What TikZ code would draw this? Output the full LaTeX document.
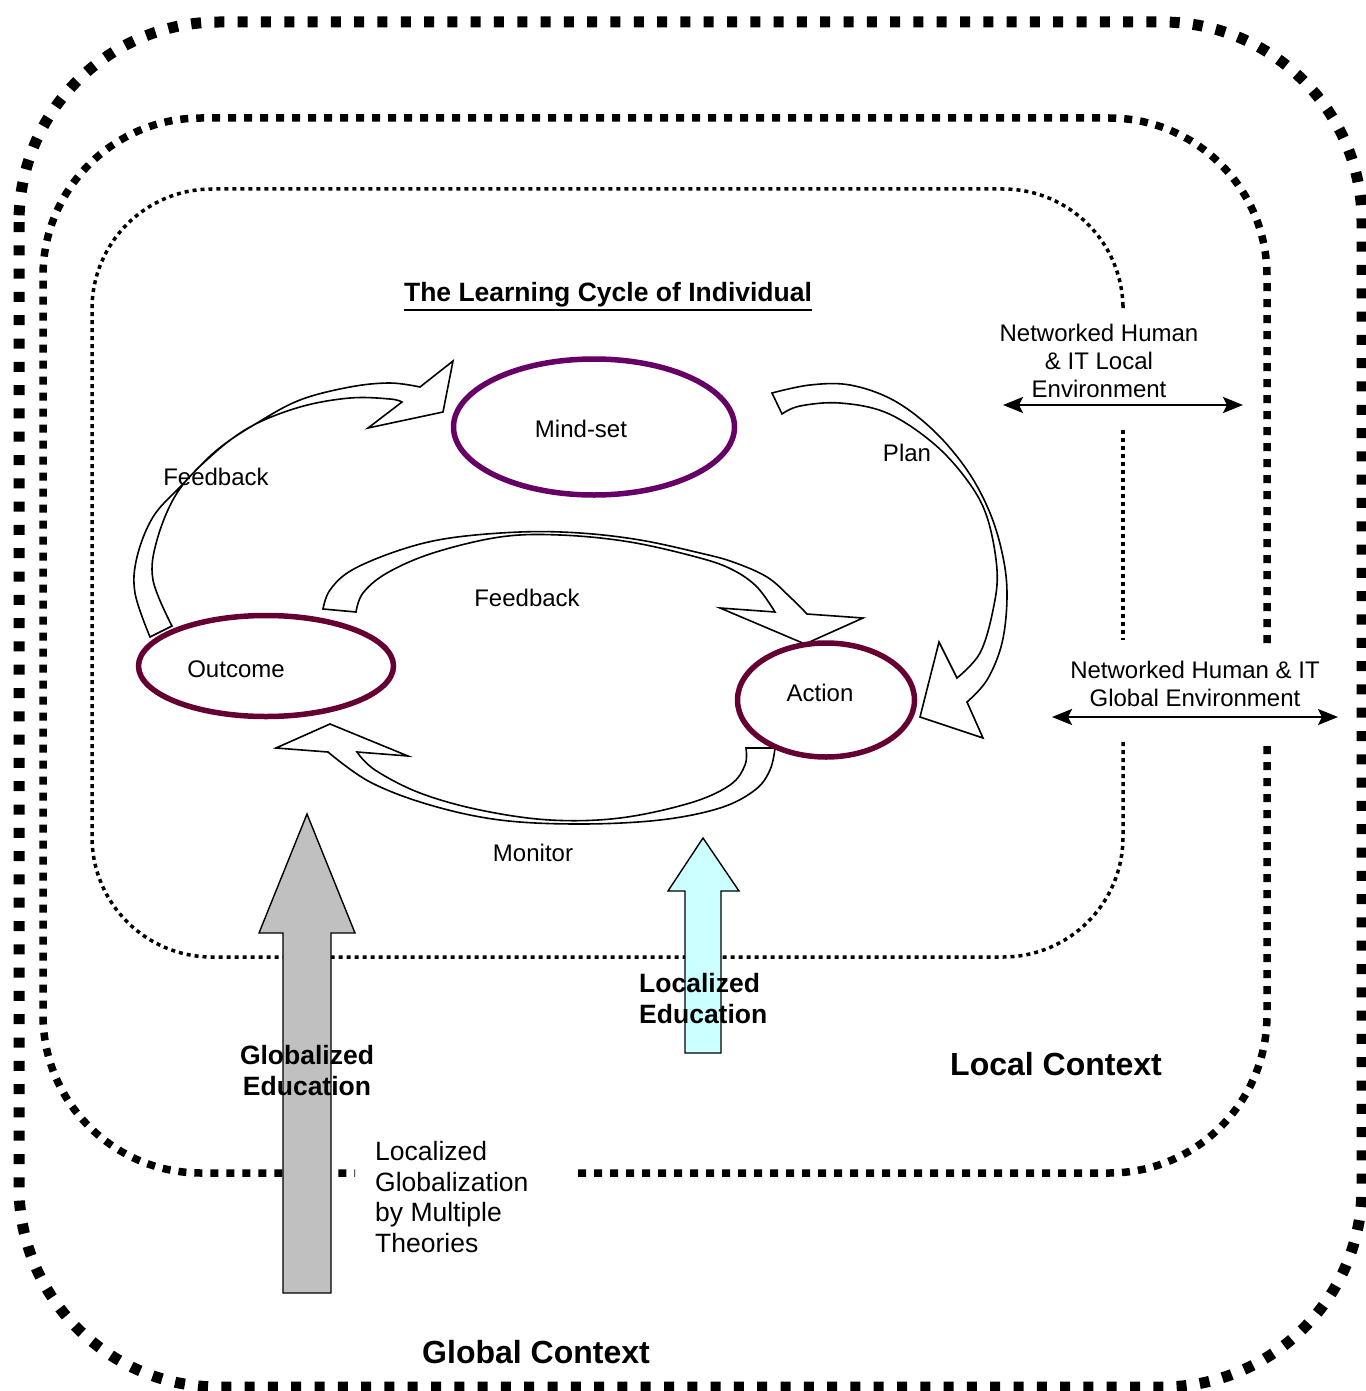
\documentclass[tikz,border=0pt]{standalone}
\usepackage{fontspec}
\setmainfont{Liberation Sans}
\usetikzlibrary{arrows.meta,shapes.geometric}

\definecolor{mindcol}{HTML}{660066}
\definecolor{stagecol}{HTML}{660033}
\definecolor{globfill}{HTML}{C0C0C0}
\definecolor{locfill}{HTML}{CCFFFF}

\begin{document}
\begin{tikzpicture}[x=1pt,y=-1pt,
  outerline/.style={line width=11pt, dash pattern=on 10pt off 13.3pt, rounded corners=200pt},
  midline/.style={line width=7.5pt, dash pattern=on 8pt off 8pt, rounded corners=158pt},
  innerline/.style={line width=3.5pt, dash pattern=on 4pt off 4pt, rounded corners=120pt},
  blockarrow/.style={draw=black, line width=1.6pt, line join=miter},
  stage/.style={ellipse, draw=stagecol, fill=white, line width=5.5pt, inner sep=0pt},
  lbl/.style={inner sep=0pt, font=\fontsize{24}{27.6}\selectfont},
  biglbl/.style={inner sep=0pt, font=\fontsize{26.5}{30.7}\selectfont},
  boldlbl/.style={inner sep=0pt, font=\fontsize{26.5}{31}\selectfont\bfseries},
  ctxlbl/.style={inner sep=0pt, font=\fontsize{32}{36}\selectfont\bfseries},
  envarrow/.style={line width=2.5pt, {Stealth[length=20pt,width=16pt,inset=4pt]}-{Stealth[length=20pt,width=16pt,inset=4pt]}},
  uparrow/.style={draw=black, line width=1.4pt, line join=miter}
]
\useasboundingbox (0,0) rectangle (1365,1391);

% ---- context borders ----
% global context (outermost)
\draw[outerline] (19,22) rectangle (1362,1387);
% local context, open at the right and at the bottom
\draw[midline] (578,1173) -- (1267,1173) -- (1267,742);
\draw[midline] (1267,643) -- (1267,118) -- (43,118) -- (43,1173) -- (355,1173);
% individual learning cycle frame
\draw[innerline] (1123,742) -- (1123,957) -- (92,957) -- (92,189) -- (1123,189) -- (1123,305);
\draw[innerline] (1123,430) -- (1123,640);

% ---- curved block arrows of the cycle ----
% feedback: outcome -> mind-set
\draw[blockarrow] plot[smooth, tension=0.6] coordinates {(150,637) (135,593) (137,557) (153,517) (180,487) (217,450) (257,423) (300,400) (350,387) (390,383) (420,387)}
  -- (453,361) -- (443,412) -- (368,428) -- (402,402)
  -- plot[smooth, tension=0.6] coordinates {(402,402) (390,399) (350,398) (300,407) (250,427) (210,457) (177,493) (157,540) (153,580) (172,626)} -- cycle;
% plan: mind-set -> action
\draw[blockarrow] plot[smooth, tension=0.6] coordinates {(772,393) (810,385) (850,385) (893,400) (933,430) (967,470) (990,513) (1003,557) (1007,597) (1002,643) (987,680) (967,702)}
  -- (983,738) -- (920,717) -- (939,642) -- (957,678)
  -- plot[smooth, tension=0.6] coordinates {(957,678) (980,653) (993,610) (997,570) (987,517) (967,480) (933,443) (887,413) (840,403) (800,406) (782,414)} -- cycle;
% feedback: outcome -> action
\draw[blockarrow] plot[smooth, tension=0.6] coordinates {(323,609) (330,590) (352,570) (400,550) (450,538) (520,532) (580,533) (640,540) (700,553) (733,562) (767,577) (790,597) (807,614)}
  -- (863,618) -- (805,644) -- (720,608) -- (775,612)
  -- plot[smooth, tension=0.6] coordinates {(775,612) (757,587) (733,570) (700,558) (630,542) (560,535) (500,537) (433,553) (387,573) (363,593) (356,612)} -- cycle;
% monitor: action -> outcome
\draw[blockarrow] plot[smooth, tension=0.6] coordinates {(775,748) (770,770) (755,790) (720,808) (660,820) (580,824) (500,820) (430,805) (370,782) (328,752)}
  -- (276,748) -- (330,724) -- (408,756) -- (357,752)
  -- plot[smooth, tension=0.6] coordinates {(357,752) (375,770) (420,793) (480,810) (550,820) (620,818) (690,803) (730,785) (745,765) (746,748)} -- cycle;

% ---- stages ----
\node[stage, draw=mindcol, minimum width=281pt, minimum height=136pt] (mindset) at (594,427) {};
\node[stage, minimum width=255pt, minimum height=101pt] (outcome) at (266,666) {};
\node[stage, minimum width=177pt, minimum height=114pt] (action) at (826,700) {};

\node[lbl] (mindsettxt) at (581,429) {Mind-set};
\node[lbl] (outcometxt) at (236,669) {Outcome};
\node[lbl] (actiontxt) at (820,693) {Action};

\node[boldlbl] (title) at (608,295) {The Learning Cycle of Individual};
\draw[line width=2pt] ([yshift=-2pt]title.south west) -- ([yshift=-2pt]title.south east);
\node[lbl] (fbouter) at (216,477) {Feedback};
\node[lbl] (plan) at (907,453) {Plan};
\node[lbl] (fbinner) at (527,598) {Feedback};
\node[lbl] (monitor) at (533,853) {Monitor};

% ---- environments ----
\node[lbl, align=center] (localenv) at (1099,361) {Networked Human\\\& IT Local\\Environment};
\coordinate (localL) at (1003,405);
\coordinate (localR) at (1243,405);
\draw[envarrow] (localL) -- (localR);

\node[lbl, align=center] (globalenv) at (1195,684) {Networked Human \& IT\\Global Environment};
\coordinate (globalL) at (1052,717);
\coordinate (globalR) at (1338,717);
\draw[envarrow] (globalL) -- (globalR);

\node[biglbl, align=left, anchor=west] (theories) at (375,1197) {Localized\\Globalization\\by Multiple\\Theories};

% ---- education arrows ----
\draw[uparrow, fill=globfill] (307,814) -- (355,933) -- (331,933) -- (331,1293) -- (283,1293) -- (283,933) -- (259,933) -- cycle;
\draw[uparrow, fill=locfill] (703,838) -- (739,891) -- (721,891) -- (721,1053) -- (685,1053) -- (685,891) -- (668,891) -- cycle;

\node[boldlbl, align=center] (globedu) at (307,1071) {Globalized\\Education};
\node[boldlbl, align=left, anchor=west] (locedu) at (639,999) {Localized\\Education};

% ---- context names ----
\node[ctxlbl] (localctx) at (1056,1064) {Local Context};
\node[ctxlbl] (globalctx) at (536,1352) {Global Context};
\end{tikzpicture}
\end{document}
